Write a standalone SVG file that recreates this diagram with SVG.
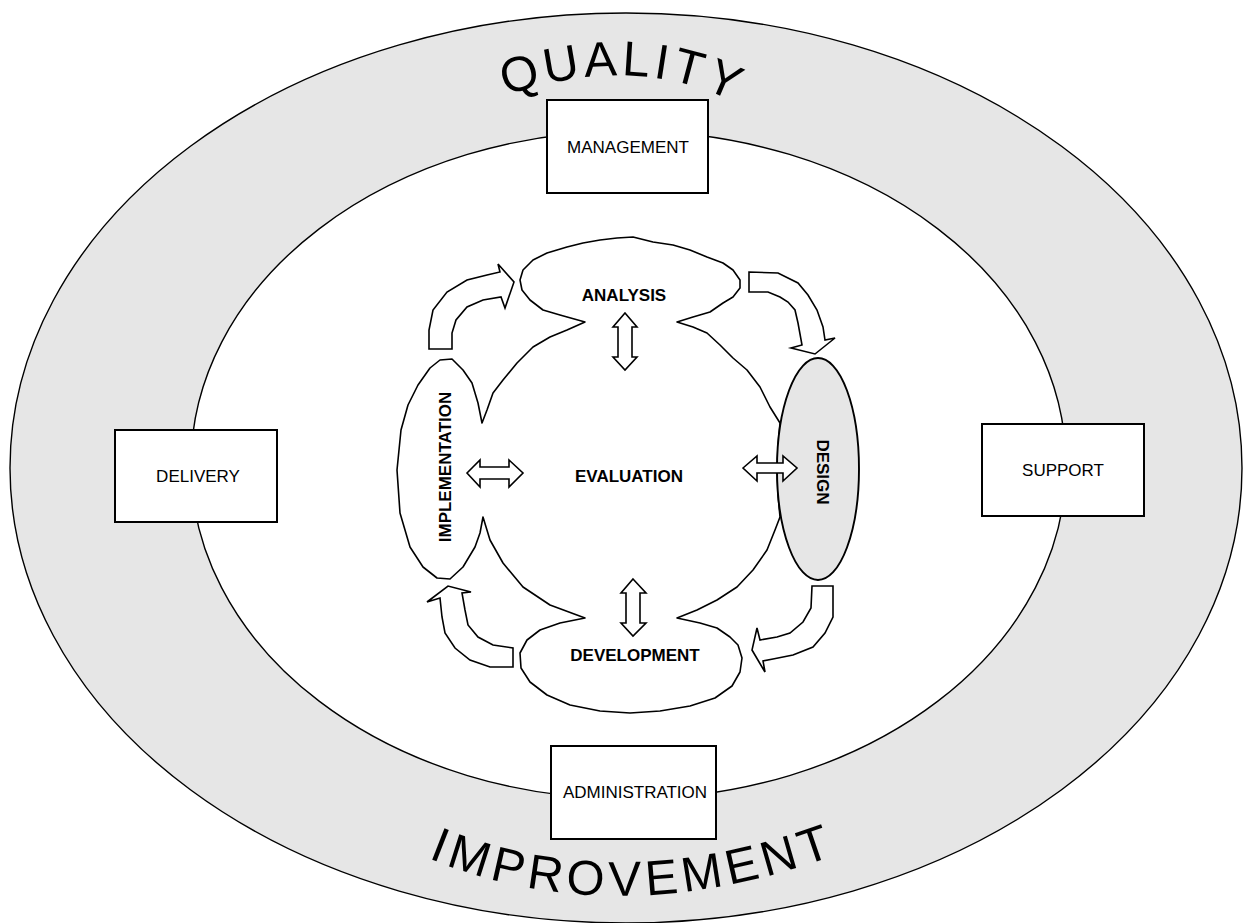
<svg xmlns="http://www.w3.org/2000/svg" width="1244" height="923" viewBox="0 0 1244 923">
<style>
.ring{stroke:#000;stroke-width:1.4}
.box{fill:#fff;stroke:#000;stroke-width:2}
.lbl{font-family:"Liberation Sans",Arial,sans-serif;font-size:17px;fill:#000;text-anchor:middle}
.bold{font-family:"Liberation Sans",Arial,sans-serif;font-size:17px;font-weight:bold;fill:#000;text-anchor:middle}
.big{font-family:"Liberation Sans",Arial,sans-serif;font-size:49px;fill:#000}
.shape{fill:#fff;stroke:#000;stroke-width:1.6;stroke-linejoin:round}
.arr{fill:#fff;stroke:#000;stroke-width:1.6;stroke-linejoin:miter}
</style>
<defs>
<path id="qpath" d="M 500 98 C 580 68, 680 62, 760 118"/>
<path id="ipath" d="M 428 858 Q 615 935 835 855"/>
</defs>
<g id="rings">
<ellipse class="ring" cx="626" cy="468" rx="616" ry="455" fill="#e6e6e6"/>
<ellipse class="ring" cx="628.5" cy="465" rx="437.5" ry="334" fill="#fff"/>
</g>
<g id="quality">
<text class="big" letter-spacing="4"><textPath href="#qpath" startOffset="6">QUALITY</textPath></text>
</g>
<g id="improvement">
<text class="big" letter-spacing="5"><textPath href="#ipath">IMPROVEMENT</textPath></text>
</g>
<g id="management">
<rect class="box" x="547" y="100" width="161" height="93"/>
<text class="lbl" x="628" y="153">MANAGEMENT</text>
</g>
<g id="delivery">
<rect class="box" x="115" y="430" width="162" height="92"/>
<text class="lbl" x="198" y="482">DELIVERY</text>
</g>
<g id="support">
<rect class="box" x="982" y="424" width="162" height="92"/>
<text class="lbl" x="1063" y="476">SUPPORT</text>
</g>
<g id="administration">
<rect class="box" x="551" y="746" width="165" height="93"/>
<text class="lbl" x="635" y="798">ADMINISTRATION</text>
</g>
<g id="cycle">
<path class="shape" d="M 482 423 L 487 410 L 493 393 L 503 380 L 517 363 L 533 347 L 550 337 L 567 330 L 585 322 L 560 315 L 543 310 L 530 300 L 522 290 L 520 280 L 523 270 L 533 260 L 547 253 L 567 247 L 583 243 L 600 240 L 617 238 L 633 237 L 653 242 L 673 245 L 690 250 L 707 257 L 723 263 L 733 270 L 740 280 L 740 288 L 733 297 L 723 303 L 710 312 L 693 317 L 677 322 L 693 327 L 707 333 L 720 345 L 733 358 L 747 370 L 760 387 L 770 407 L 780 423 L 778 445 L 777 470 L 778 495 L 780 517 L 775 530 L 767 550 L 753 570 L 737 587 L 717 600 L 697 610 L 677 618 L 700 623 L 717 628 L 730 637 L 738 645 L 742 658 L 740 672 L 732 686 L 715 698 L 690 706 L 660 711 L 630 713 L 600 711 L 570 705 L 547 695 L 530 682 L 521 668 L 520 653 L 527 640 L 540 630 L 560 623 L 585 618 L 550 605 L 523 587 L 503 563 L 490 540 L 483 517 L 480 533 L 475 547 L 463 567 L 450 579 L 437 578 L 423 567 L 410 547 L 400 513 L 397 470 L 401 430 L 408 405 L 418 385 L 430 368 L 440 360 L 452 359 L 463 370 L 472 383 L 478 403 Z"/>
</g>
<g id="design">
<ellipse cx="818" cy="469" rx="41" ry="111" fill="#e6e6e6" stroke="#000" stroke-width="1.9"/>
<text class="bold" transform="translate(817 472) rotate(90)">DESIGN</text>
</g>
<g id="analysis"><text class="bold" x="624" y="301">ANALYSIS</text></g>
<g id="evaluation"><text class="bold" x="629" y="482">EVALUATION</text></g>
<g id="development"><text class="bold" x="635" y="661">DEVELOPMENT</text></g>
<g id="implementation"><text class="bold" transform="translate(451 467) rotate(-90)">IMPLEMENTATION</text></g>
<g id="connectors">
<path class="arr" d="M 429 349 L 429 330 L 433 310 L 447 292 L 467 280 L 487 275 L 500 272 L 498 264 L 514 282 L 505 308 L 501 297 L 483 300 L 467 307 L 456 320 L 452 333 L 452 349 Z"/>
<path class="arr" d="M 749 272 L 778 273 L 798 283 L 808 295 L 817 310 L 823 327 L 825 340 L 835 338 L 815 354 L 791 348 L 802 345 L 798 323 L 795 310 L 788 302 L 780 297 L 768 292 L 749 292 Z"/>
<path class="arr" d="M 812 586 L 833 586 L 833 617 L 825 633 L 813 647 L 793 655 L 773 659 L 763 661 L 765 672 L 752 650 L 757 628 L 760 640 L 777 637 L 790 633 L 803 622 L 811 608 Z"/>
<path class="arr" d="M 513 648 L 513 667 L 490 667 L 470 660 L 455 648 L 445 633 L 442 617 L 440 598 L 427 602 L 448 586 L 471 592 L 462 593 L 465 610 L 468 625 L 478 637 L 493 645 Z"/>
<path class="arr" d="M 625 313 L 637 327 L 632 327 L 632 357 L 637 357 L 625 370 L 613 357 L 618 357 L 618 327 L 613 327 Z"/>
<path class="arr" d="M 633 579 L 646 593 L 640 593 L 640 623 L 646 623 L 633 636 L 621 623 L 626 623 L 626 593 L 621 593 Z"/>
<path class="arr" d="M 467 473 L 480 460 L 480 467 L 509 467 L 509 460 L 523 473 L 509 487 L 509 479 L 480 479 L 480 487 Z"/>
<path class="arr" d="M 743 468 L 757 456 L 757 463 L 783 463 L 783 456 L 797 468 L 783 481 L 783 473 L 757 473 L 757 481 Z"/>
</g>
</svg>
